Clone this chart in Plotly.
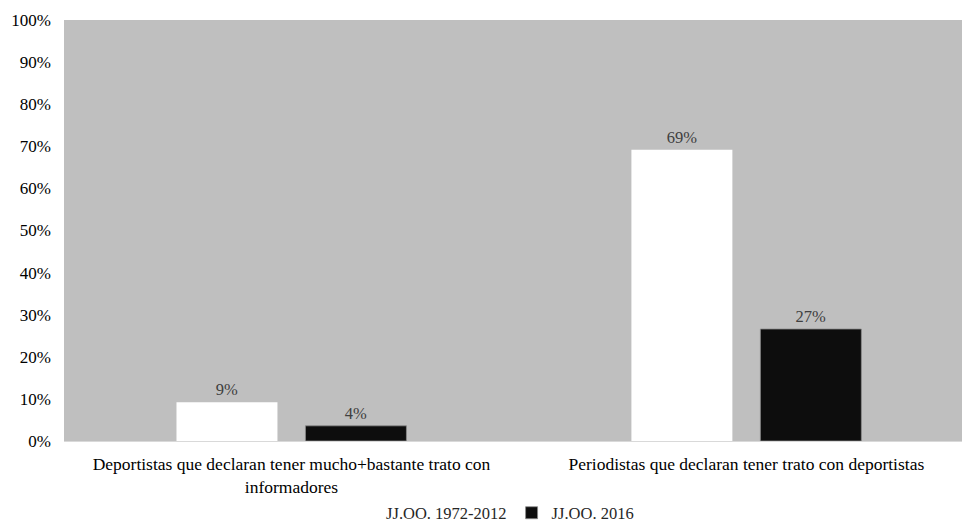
import plotly.graph_objects as go

categories = ["Deportistas que declaran tener mucho+bastante trato con<br>informadores",
              "Periodistas que declaran tener trato con deportistas"]
series_names = ["JJ.OO. 1972-2012", "JJ.OO. 2016"]
values_1972_2012 = [0.092, 0.692]
values_2016 = [0.036, 0.266]
y_ticks = [0, 0.1, 0.2, 0.3, 0.4, 0.5, 0.6, 0.7, 0.8, 0.9, 1.0]

FONT = "Liberation Serif"

fig = go.Figure()
fig.add_trace(go.Bar(
    x=categories, y=values_1972_2012, name=series_names[0],
    marker=dict(color="#FFFFFF", line=dict(color="#FFFFFF", width=0)),
    texttemplate="%{y:.0%}", textposition="outside",
    textfont=dict(family=FONT, size=16.5, color="#404040"), cliponaxis=False,
))
fig.add_trace(go.Bar(
    x=categories, y=values_2016, name=series_names[1],
    marker=dict(color="#0D0D0D", line=dict(color="#8C8C8C", width=0.8)),
    texttemplate="%{y:.0%}", textposition="outside",
    textfont=dict(family=FONT, size=16.5, color="#404040"), cliponaxis=False,
))

fig.update_layout(
    width=962, height=524,
    margin=dict(l=64, r=0, t=20, b=83, autoexpand=False),
    paper_bgcolor="#FFFFFF", plot_bgcolor="#BFBFBF",
    barmode="group", bargap=0.433, bargroupgap=0.217,
    font=dict(family=FONT, size=17, color="#000000"),
    showlegend=True,
    legend=dict(orientation="h", xref="container", x=0.512, xanchor="center",
                yref="container", y=0.021, yanchor="middle",
                font=dict(family=FONT, size=16.5, color="#262626"),
                bgcolor="rgba(0,0,0,0)"),
)
fig.update_xaxes(
    type="category", range=[-0.5, 1.474],
    showline=True, linecolor="#D9D9D9", linewidth=1,
    ticks="", ticklabelstandoff=7,
    tickfont=dict(family=FONT, size=17.5, color="#000000"),
    showgrid=False, automargin=False,
)
fig.update_yaxes(
    range=[0, 1], tickvals=y_ticks, tickformat=".0%",
    showgrid=False, zeroline=False, showline=False,
    ticks="", ticklabelstandoff=12, automargin=False,
    tickfont=dict(family=FONT, size=17, color="#000000"),
)

fig.write_html("out.html")
